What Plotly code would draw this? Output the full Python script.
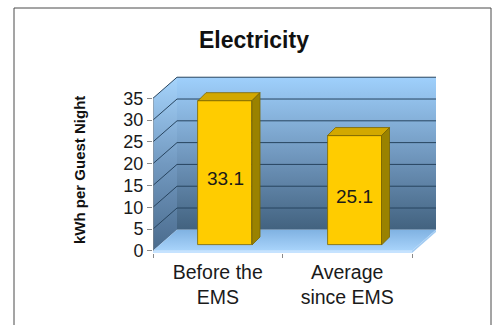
import plotly.graph_objects as go

# ---- data ----
categories = ["Before the<br>EMS", "Average<br>since EMS"]
values = [33.1, 25.1]
y_ticks = [0, 5, 10, 15, 20, 25, 30, 35]
title_text = "Electricity"
y_title = "kWh per Guest Night"

FONT = "Liberation Sans, Arial, sans-serif"

# ---- layout geometry (pixels) ----
W, H = 500, 325
L, R, T, B = 153, 437, 72, 253
PX_X = 129.5          # pixels per category step
PX_Y = 4.36           # pixels per value unit
x_min, y_min = -0.5, -0.5
x_max = x_min + (R - L) / PX_X
y_max = y_min + (B - T) / PX_Y

# oblique depth of the chart box (walls/floor)
DX, DY = 24 / PX_X, 21 / PX_Y
# bar plane sits part-way into the box
BX, BY = 7.25 / PX_X, 5.82 / PX_Y
# bar geometry
BAR_W = 54 / PX_X
BDX, BDY = 8 / PX_X, 8 / PX_Y

x_left, x_right = -0.5, len(categories) - 0.5
top = max(y_ticks)

fig = go.Figure()


def poly(xs, ys, fill=None, grad=None, line=None, xaxis="x", yaxis="y"):
    kw = dict(x=xs + [xs[0]], y=ys + [ys[0]], mode="lines", fill="toself",
              hoverinfo="skip", showlegend=False, xaxis=xaxis, yaxis=yaxis,
              line=line or dict(width=0, color="rgba(0,0,0,0)"))
    if grad is not None:
        kw["fillgradient"] = grad
    else:
        kw["fillcolor"] = fill
    fig.add_trace(go.Scatter(**kw))


wall_scale = [[0, "#42627F"], [0.45, "#6D93B9"], [1, "#9FD0FC"]]

# back wall
poly([x_left + DX, x_right + DX, x_right + DX, x_left + DX],
     [DY, DY, top + DY, top + DY],
     grad=dict(type="vertical", colorscale=wall_scale, start=DY, stop=top + DY))
# side wall
poly([x_left, x_left + DX, x_left + DX, x_left],
     [0, DY, top + DY, top],
     grad=dict(type="vertical", colorscale=[[0, "#4A6B8D"], [0.5, "#7299C0"], [1, "#A6D4FC"]],
               start=0, stop=top + DY))
# floor top
poly([x_left, x_right, x_right + DX, x_left + DX],
     [0, 0, DY, DY],
     grad=dict(type="vertical", colorscale=[[0, "#A9D4FB"], [1, "#80B2E2"]], start=0, stop=DY))
# floor slab front & right edge
poly([x_left, x_right, x_right, x_left], [0, 0, -0.5, -0.5], fill="#C6E3FF")
poly([x_right, x_right + DX, x_right + DX, x_right], [0, DY, DY - 0.5, -0.5], fill="#A2CBF2")

# gridlines on back and side walls
for v in y_ticks[1:]:
    fig.add_trace(go.Scatter(
        x=[x_left, x_left + DX, x_right + DX], y=[v, v + DY, v + DY],
        mode="lines", line=dict(color="#27445F", width=1),
        hoverinfo="skip", showlegend=False))

# value axis line at the front-left edge
fig.add_trace(go.Scatter(x=[x_left, x_left], y=[0, top], mode="lines",
                         line=dict(color="#8A8A8A", width=1),
                         hoverinfo="skip", showlegend=False))

# bar front faces
xs = list(range(len(values)))
fig.add_trace(go.Bar(x=xs, y=values, width=BAR_W, xaxis="x2", yaxis="y2",
                     marker=dict(color="#FFCC00", line=dict(color="#7A6400", width=0.8)),
                     hoverinfo="skip", showlegend=False))

# bar top and side faces
for xi, v in zip(xs, values):
    xl, xr = xi - BAR_W / 2, xi + BAR_W / 2
    poly([xl, xr, xr + BDX, xl + BDX], [v, v, v + BDY, v + BDY], fill="#D2A800",
         line=dict(color="#7A6400", width=0.8), xaxis="x2", yaxis="y2")
    poly([xr, xr + BDX, xr + BDX, xr], [0, BDY, v + BDY, v], fill="#9A8200",
         line=dict(color="#7A6400", width=0.8), xaxis="x2", yaxis="y2")

# value labels inside the bars
for xi, v in zip(xs, values):
    fig.add_annotation(x=xi, y=v / 2, xref="x2", yref="y", text=f"{v}",
                       showarrow=False, font=dict(family=FONT, size=19, color="#1A1A1A"))

# y-axis title
fig.add_annotation(x=(79 - L) / (R - L), y=(B - 170) / (B - T), xref="paper", yref="paper",
                   xanchor="center", yanchor="middle",
                   text=f"<b>{y_title}</b>", textangle=-90, showarrow=False,
                   font=dict(family=FONT, size=15, color="#111111"))

# outer frame
fig.add_shape(type="rect", xref="paper", yref="paper",
              x0=(14 - L) / (R - L), x1=(491 - L) / (R - L),
              y0=(B - 340) / (B - T), y1=(B - 8) / (B - T),
              line=dict(color="#4A4A4A", width=1), fillcolor="rgba(0,0,0,0)")

fig.update_layout(
    width=W, height=H,
    margin=dict(l=L, r=W - R, t=T, b=H - B),
    paper_bgcolor="white", plot_bgcolor="rgba(0,0,0,0)",
    hovermode=False, showlegend=False, bargap=0,
    title=dict(text=f"<b>{title_text}</b>", x=254 / W, xanchor="center",
               y=1 - 40 / H, yanchor="middle", yref="container",
               font=dict(family=FONT, size=23, color="#111111")),
    xaxis=dict(range=[x_min, x_max], tickvals=xs, ticktext=categories,
               showgrid=False, zeroline=False, showline=False, ticks="",
               tickfont=dict(family=FONT, size=19.5, color="#1A1A1A"),
               ticklabelstandoff=5,
               minor=dict(tickvals=[x_left + i for i in range(len(values) + 1)],
                          ticks="outside", ticklen=4, tickcolor="#8A8A8A", showgrid=False),
               automargin=False, fixedrange=True),
    yaxis=dict(range=[y_min, y_max], tickvals=y_ticks, ticks="outside", ticklen=5,
               tickcolor="#8A8A8A", showgrid=False, zeroline=False, showline=False,
               tickfont=dict(family=FONT, size=18, color="#1A1A1A"),
               automargin=False, fixedrange=True),
    xaxis2=dict(range=[x_min - BX, x_max - BX], overlaying="x", visible=False, fixedrange=True),
    yaxis2=dict(range=[y_min - BY, y_max - BY], overlaying="y", visible=False, fixedrange=True),
)

fig.write_html("out.html")
